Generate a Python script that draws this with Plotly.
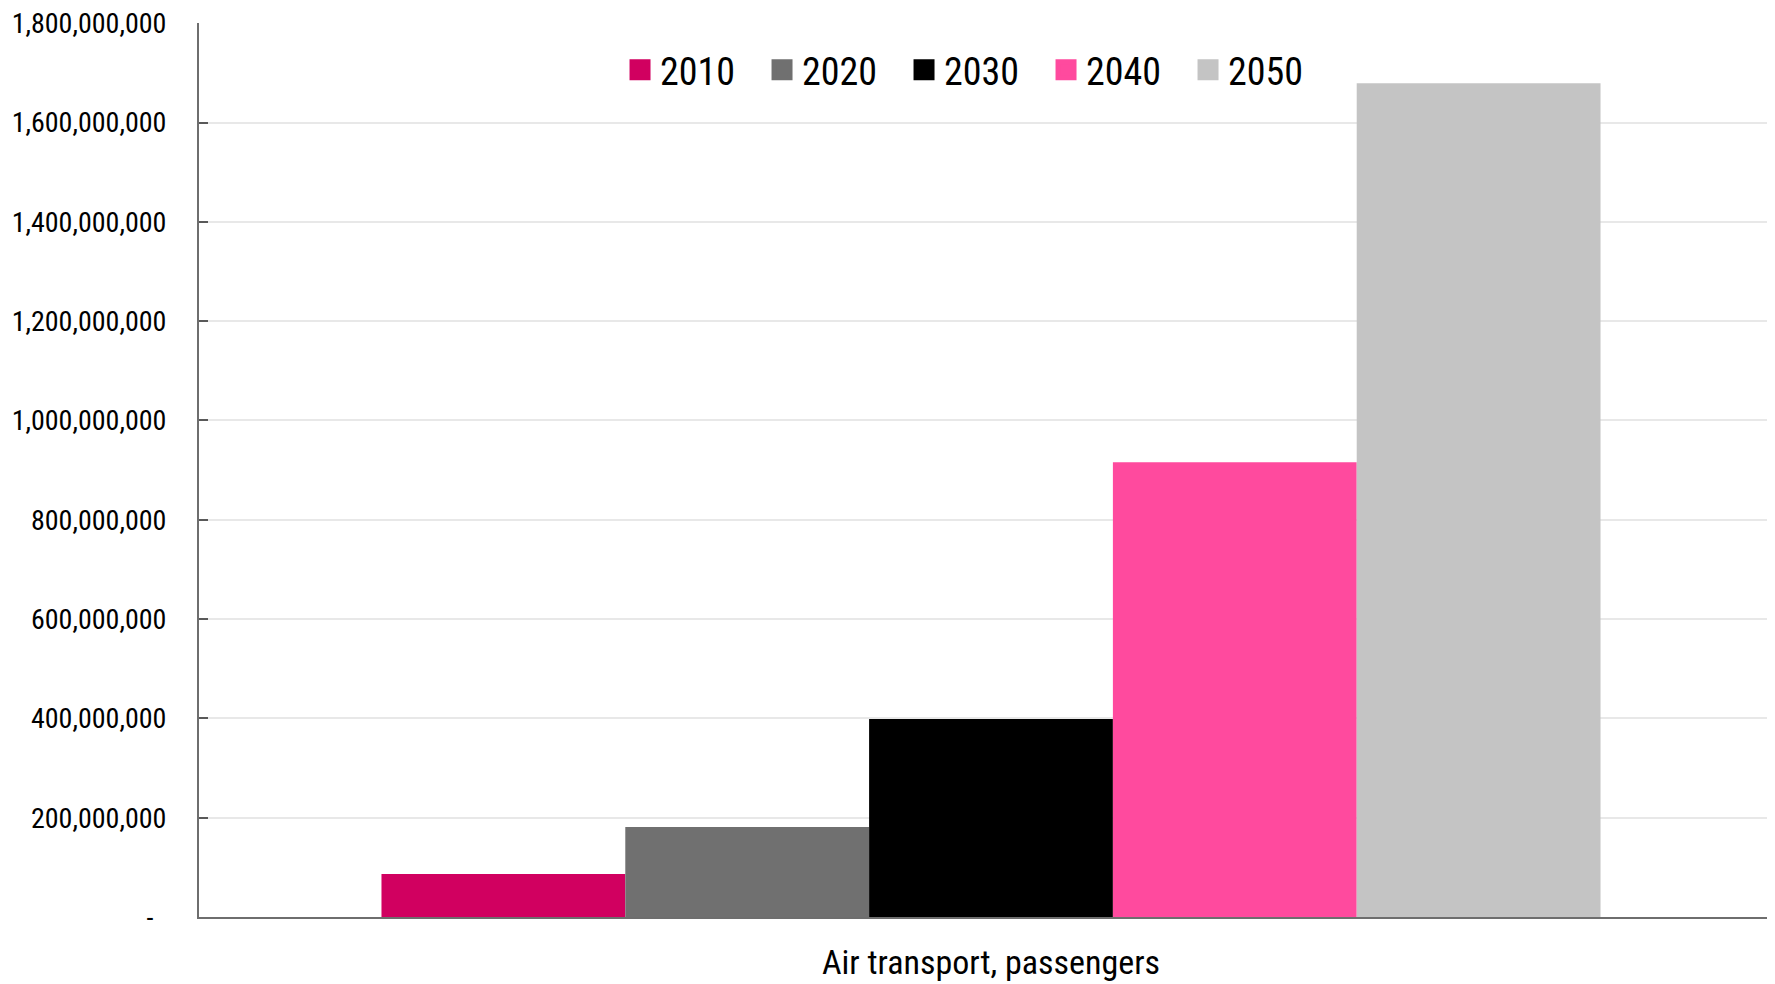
import plotly.graph_objects as go

categories = ["Air transport, passengers"]
years = ["2010", "2020", "2030", "2040", "2050"]
values = [86_600_000, 181_000_000, 398_600_000, 916_000_000, 1_679_000_000]
colors = ["#D10060", "#707070", "#000000", "#FF4A9E", "#C4C4C4"]
tick_vals = [0, 200e6, 400e6, 600e6, 800e6, 1000e6, 1200e6, 1400e6, 1600e6, 1800e6]
tick_text = ["-\u00a0\u00a0", "200,000,000", "400,000,000", "600,000,000", "800,000,000",
             "1,000,000,000", "1,200,000,000", "1,400,000,000", "1,600,000,000", "1,800,000,000"]

FONT = "Roboto Condensed, Liberation Sans Narrow, Arial Narrow, Liberation Sans, sans-serif"

fig = go.Figure()
for yr, v, c in zip(years, values, colors):
    fig.add_trace(go.Bar(x=categories, y=[v], name=yr, marker=dict(color=c, line=dict(width=0)),
                         showlegend=False, legendgroup=yr))
for yr, c in zip(years, colors):
    fig.add_trace(go.Scatter(x=[None], y=[None], mode="markers", name=yr, legendgroup=yr,
                             marker=dict(symbol="square", size=16, color=c,
                                         line=dict(width=5, color=c)),
                             hoverinfo="skip"))

fig.update_layout(
    width=1775, height=984,
    margin=dict(l=191, r=0, t=15, b=75),
    paper_bgcolor="white", plot_bgcolor="white",
    barmode="group", bargap=0.2304, bargroupgap=0,
    font=dict(family=FONT, color="#000000"),
    legend=dict(orientation="h", x=0.2658, xanchor="left", y=0.9474, yanchor="middle",
                font=dict(size=38, family=FONT), bgcolor="rgba(0,0,0,0)",
                entrywidth=97, itemwidth=30),
    xaxis=dict(type="category", range=[-0.5, 0.5], showline=True, linecolor="#6E6E6E",
               linewidth=2, ticks="", showgrid=False, tickfont=dict(size=34, family=FONT),
               ticklabelstandoff=14, automargin=False),
    yaxis=dict(range=[0, 1.8004e9], tickvals=tick_vals, ticktext=tick_text,
               showline=True, linecolor="#6E6E6E", linewidth=2,
               ticks="inside", ticklen=9, tickwidth=2, tickcolor="#595959",
               showgrid=True, gridcolor="#E8E8E8", gridwidth=1.5, zeroline=False,
               tickfont=dict(size=28, family=FONT), ticklabelstandoff=25, automargin=False,
               ticklabeloverflow="allow"),
)

fig.write_html("out.html")
